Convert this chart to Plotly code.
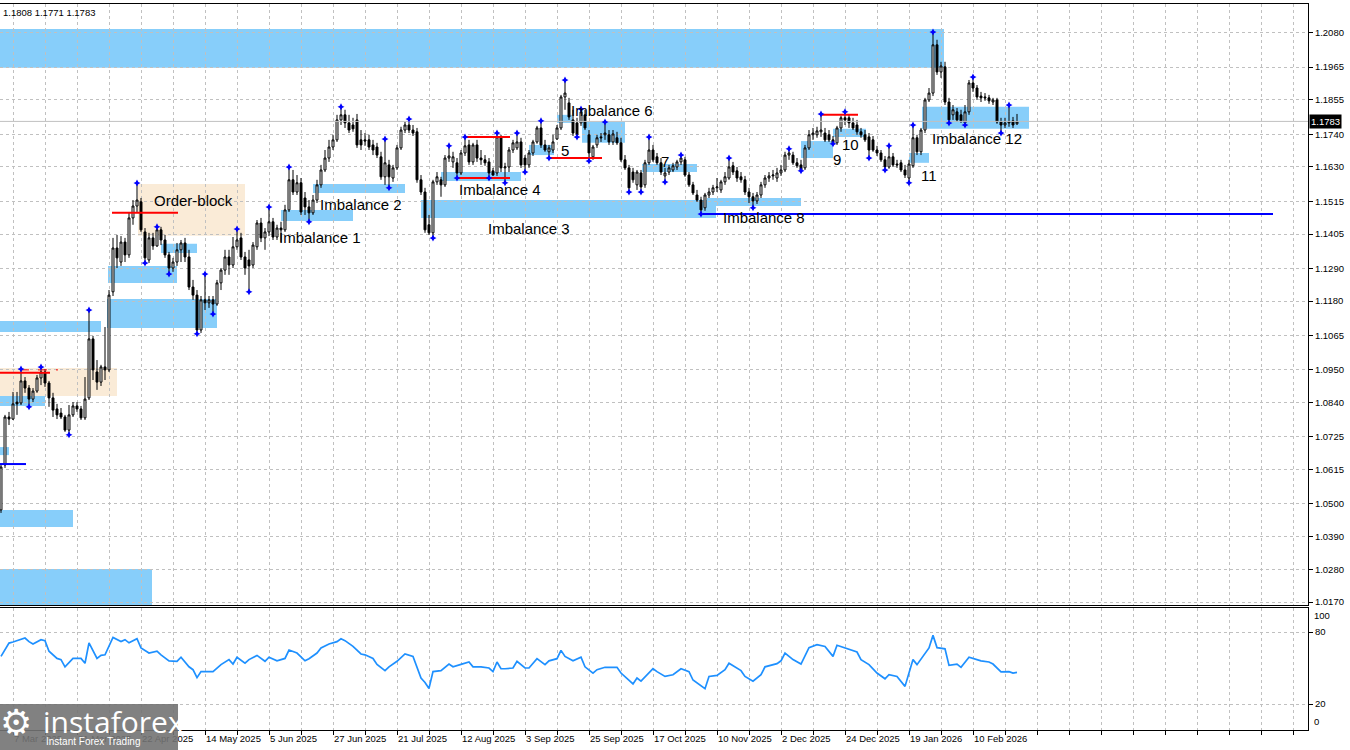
import plotly.graph_objects as go

# ---------------- data ----------------
opens = [
    1.0479, 1.0630, 1.0791, 1.0784, 1.0841, 1.0838, 1.0912, 1.0888, 1.0851, 1.0878,
    1.0922, 1.0942, 1.0905, 1.0855, 1.0818, 1.0804, 1.0791, 1.0747, 1.0798, 1.0828,
    1.0818, 1.0788, 1.0855, 1.1053, 1.0942, 1.0908, 1.0959, 1.0949, 1.1211, 1.1358,
    1.1311, 1.1378, 1.1335, 1.1459, 1.1499, 1.1513, 1.1412, 1.1318, 1.1392, 1.1365,
    1.1419, 1.1385, 1.1335, 1.1291, 1.1311, 1.1352, 1.1375, 1.1328, 1.1227, 1.1200,
    1.1083, 1.1184, 1.1174, 1.1184, 1.1170, 1.1241, 1.1284, 1.1328, 1.1301, 1.1362,
    1.1392, 1.1328, 1.1318, 1.1301, 1.1362, 1.1442, 1.1392, 1.1412, 1.1446, 1.1395,
    1.1425, 1.1419, 1.1486, 1.1587, 1.1546, 1.1577, 1.1526, 1.1496, 1.1476, 1.1519,
    1.1570, 1.1620, 1.1660, 1.1697, 1.1721, 1.1788, 1.1805, 1.1778, 1.1771, 1.1788,
    1.1721, 1.1721, 1.1721, 1.1704, 1.1697, 1.1664, 1.1597, 1.1637, 1.1593, 1.1627,
    1.1694, 1.1754, 1.1771, 1.1754, 1.1748, 1.1587, 1.1546, 1.1436, 1.1409, 1.1580,
    1.1587, 1.1570, 1.1660, 1.1647, 1.1644, 1.1610, 1.1677, 1.1704, 1.1647, 1.1704,
    1.1660, 1.1654, 1.1647, 1.1617, 1.1610, 1.1731, 1.1627, 1.1630, 1.1687, 1.1694,
    1.1714, 1.1660, 1.1637, 1.1677, 1.1714, 1.1761, 1.1704, 1.1681, 1.1687, 1.1724,
    1.1761, 1.1865, 1.1845, 1.1788, 1.1778, 1.1778, 1.1805, 1.1738, 1.1664, 1.1704,
    1.1731, 1.1738, 1.1738, 1.1714, 1.1728, 1.1711, 1.1654, 1.1627, 1.1613, 1.1570,
    1.1610, 1.1570, 1.1644, 1.1687, 1.1664, 1.1644, 1.1600, 1.1613, 1.1620, 1.1630,
    1.1647, 1.1654, 1.1603, 1.1570, 1.1536, 1.1519, 1.1493, 1.1536, 1.1546, 1.1560,
    1.1553, 1.1580, 1.1593, 1.1634, 1.1617, 1.1597, 1.1587, 1.1546, 1.1530, 1.1516,
    1.1536, 1.1570, 1.1593, 1.1600, 1.1593, 1.1610, 1.1620, 1.1670, 1.1670, 1.1644,
    1.1637, 1.1627, 1.1694, 1.1738, 1.1738, 1.1748, 1.1744, 1.1738, 1.1721, 1.1711,
    1.1761, 1.1795, 1.1795, 1.1778, 1.1771, 1.1748, 1.1738, 1.1731, 1.1721, 1.1687,
    1.1677, 1.1654, 1.1630, 1.1664, 1.1640, 1.1644, 1.1620, 1.1593, 1.1634, 1.1728,
    1.1681, 1.1754, 1.1855, 1.1878, 1.2040, 1.1949, 1.1966, 1.1848, 1.1805, 1.1815,
    1.1805, 1.1778, 1.1815, 1.1912, 1.1895, 1.1868, 1.1865, 1.1862, 1.1848, 1.1855,
    1.1781, 1.1771, 1.1778, 1.1785, 1.1775,
]
highs = [
    1.0630, 1.0798, 1.0808, 1.0875, 1.0875, 1.0952, 1.0925, 1.0898, 1.0888, 1.0932,
    1.0959, 1.0952, 1.0912, 1.0872, 1.0835, 1.0821, 1.0798, 1.0831, 1.0841, 1.0841,
    1.0828, 1.0925, 1.1150, 1.1063, 1.0982, 1.0966, 1.1093, 1.1217, 1.1392, 1.1402,
    1.1398, 1.1392, 1.1479, 1.1519, 1.1576, 1.1526, 1.1425, 1.1409, 1.1409, 1.1429,
    1.1429, 1.1402, 1.1345, 1.1325, 1.1375, 1.1385, 1.1392, 1.1352, 1.1251, 1.1217,
    1.1197, 1.1271, 1.1197, 1.1197, 1.1251, 1.1291, 1.1352, 1.1352, 1.1395, 1.1422,
    1.1409, 1.1345, 1.1352, 1.1378, 1.1452, 1.1459, 1.1425, 1.1496, 1.1459, 1.1436,
    1.1446, 1.1503, 1.1630, 1.1620, 1.1603, 1.1593, 1.1546, 1.1519, 1.1536, 1.1587,
    1.1637, 1.1687, 1.1721, 1.1738, 1.1805, 1.1832, 1.1822, 1.1805, 1.1795, 1.1808,
    1.1754, 1.1744, 1.1738, 1.1721, 1.1711, 1.1681, 1.1724, 1.1654, 1.1637, 1.1704,
    1.1765, 1.1781, 1.1791, 1.1771, 1.1761, 1.1603, 1.1560, 1.1469, 1.1587, 1.1613,
    1.1597, 1.1670, 1.1701, 1.1681, 1.1660, 1.1687, 1.1731, 1.1721, 1.1711, 1.1721,
    1.1687, 1.1670, 1.1660, 1.1627, 1.1744, 1.1738, 1.1644, 1.1697, 1.1721, 1.1744,
    1.1728, 1.1670, 1.1687, 1.1721, 1.1768, 1.1785, 1.1721, 1.1704, 1.1738, 1.1771,
    1.1872, 1.1922, 1.1862, 1.1822, 1.1795, 1.1825, 1.1822, 1.1754, 1.1704, 1.1738,
    1.1744, 1.1781, 1.1754, 1.1754, 1.1748, 1.1728, 1.1670, 1.1637, 1.1627, 1.1620,
    1.1620, 1.1654, 1.1731, 1.1704, 1.1677, 1.1660, 1.1627, 1.1637, 1.1644, 1.1654,
    1.1670, 1.1664, 1.1613, 1.1580, 1.1553, 1.1530, 1.1543, 1.1560, 1.1570, 1.1593,
    1.1587, 1.1613, 1.1660, 1.1647, 1.1630, 1.1613, 1.1600, 1.1560, 1.1543, 1.1546,
    1.1580, 1.1603, 1.1613, 1.1620, 1.1627, 1.1637, 1.1681, 1.1691, 1.1681, 1.1660,
    1.1654, 1.1704, 1.1754, 1.1761, 1.1765, 1.1808, 1.1761, 1.1754, 1.1734, 1.1768,
    1.1802, 1.1815, 1.1805, 1.1795, 1.1788, 1.1761, 1.1754, 1.1744, 1.1734, 1.1701,
    1.1687, 1.1667, 1.1701, 1.1677, 1.1654, 1.1654, 1.1637, 1.1654, 1.1771, 1.1738,
    1.1761, 1.1862, 1.1895, 1.2083, 1.2057, 1.1983, 1.1983, 1.1862, 1.1838, 1.1828,
    1.1822, 1.1838, 1.1922, 1.1932, 1.1905, 1.1882, 1.1878, 1.1872, 1.1862, 1.1862,
    1.1795, 1.1795, 1.1838, 1.1798, 1.1808,
]
lows = [
    1.0469, 1.0620, 1.0764, 1.0781, 1.0798, 1.0831, 1.0872, 1.0825, 1.0841, 1.0872,
    1.0898, 1.0892, 1.0825, 1.0791, 1.0784, 1.0784, 1.0741, 1.0731, 1.0791, 1.0808,
    1.0781, 1.0781, 1.0848, 1.0915, 1.0882, 1.0895, 1.0915, 1.0942, 1.1197, 1.1291,
    1.1298, 1.1311, 1.1325, 1.1436, 1.1479, 1.1412, 1.1308, 1.1308, 1.1352, 1.1362,
    1.1368, 1.1325, 1.1271, 1.1278, 1.1298, 1.1311, 1.1311, 1.1217, 1.1184, 1.1070,
    1.1073, 1.1150, 1.1157, 1.1137, 1.1164, 1.1217, 1.1268, 1.1268, 1.1291, 1.1352,
    1.1318, 1.1268, 1.1211, 1.1291, 1.1352, 1.1378, 1.1352, 1.1398, 1.1385, 1.1385,
    1.1378, 1.1412, 1.1479, 1.1536, 1.1536, 1.1469, 1.1469, 1.1446, 1.1469, 1.1509,
    1.1560, 1.1613, 1.1647, 1.1687, 1.1714, 1.1771, 1.1761, 1.1744, 1.1748, 1.1694,
    1.1687, 1.1701, 1.1687, 1.1670, 1.1660, 1.1587, 1.1570, 1.1560, 1.1580, 1.1620,
    1.1687, 1.1744, 1.1744, 1.1734, 1.1577, 1.1536, 1.1409, 1.1402, 1.1392, 1.1570,
    1.1530, 1.1563, 1.1647, 1.1627, 1.1593, 1.1603, 1.1667, 1.1637, 1.1637, 1.1647,
    1.1637, 1.1634, 1.1593, 1.1600, 1.1600, 1.1613, 1.1577, 1.1613, 1.1677, 1.1687,
    1.1627, 1.1613, 1.1627, 1.1667, 1.1708, 1.1694, 1.1681, 1.1660, 1.1677, 1.1721,
    1.1754, 1.1822, 1.1788, 1.1734, 1.1731, 1.1768, 1.1754, 1.1650, 1.1654, 1.1694,
    1.1714, 1.1721, 1.1704, 1.1704, 1.1704, 1.1647, 1.1620, 1.1546, 1.1577, 1.1553,
    1.1546, 1.1560, 1.1637, 1.1647, 1.1637, 1.1603, 1.1580, 1.1603, 1.1613, 1.1620,
    1.1637, 1.1597, 1.1563, 1.1536, 1.1513, 1.1472, 1.1483, 1.1526, 1.1536, 1.1546,
    1.1543, 1.1570, 1.1587, 1.1603, 1.1580, 1.1577, 1.1536, 1.1509, 1.1493, 1.1506,
    1.1526, 1.1560, 1.1580, 1.1587, 1.1580, 1.1600, 1.1613, 1.1654, 1.1637, 1.1627,
    1.1617, 1.1620, 1.1687, 1.1721, 1.1728, 1.1731, 1.1714, 1.1714, 1.1708, 1.1704,
    1.1748, 1.1771, 1.1761, 1.1754, 1.1738, 1.1728, 1.1714, 1.1660, 1.1681, 1.1667,
    1.1647, 1.1620, 1.1624, 1.1630, 1.1627, 1.1613, 1.1593, 1.1577, 1.1627, 1.1670,
    1.1670, 1.1744, 1.1848, 1.1868, 1.1939, 1.1929, 1.1838, 1.1778, 1.1788, 1.1781,
    1.1778, 1.1771, 1.1805, 1.1882, 1.1855, 1.1848, 1.1852, 1.1842, 1.1838, 1.1775,
    1.1744, 1.1761, 1.1765, 1.1761, 1.1771,
]
closes = [
    1.0623, 1.0791, 1.0784, 1.0835, 1.0835, 1.0912, 1.0888, 1.0851, 1.0878, 1.0922,
    1.0942, 1.0905, 1.0855, 1.0814, 1.0798, 1.0791, 1.0747, 1.0798, 1.0828, 1.0818,
    1.0788, 1.0851, 1.1053, 1.0949, 1.0908, 1.0959, 1.0949, 1.1200, 1.1358, 1.1325,
    1.1378, 1.1335, 1.1459, 1.1499, 1.1519, 1.1419, 1.1325, 1.1392, 1.1365, 1.1419,
    1.1385, 1.1335, 1.1291, 1.1311, 1.1352, 1.1375, 1.1328, 1.1227, 1.1200, 1.1083,
    1.1184, 1.1174, 1.1184, 1.1170, 1.1241, 1.1284, 1.1328, 1.1301, 1.1362, 1.1385,
    1.1328, 1.1291, 1.1298, 1.1368, 1.1442, 1.1392, 1.1412, 1.1446, 1.1395, 1.1425,
    1.1419, 1.1486, 1.1587, 1.1546, 1.1577, 1.1479, 1.1496, 1.1476, 1.1519, 1.1570,
    1.1620, 1.1660, 1.1697, 1.1721, 1.1788, 1.1805, 1.1778, 1.1754, 1.1758, 1.1704,
    1.1704, 1.1717, 1.1697, 1.1687, 1.1670, 1.1597, 1.1644, 1.1597, 1.1627, 1.1694,
    1.1754, 1.1771, 1.1754, 1.1744, 1.1587, 1.1546, 1.1419, 1.1409, 1.1580, 1.1597,
    1.1570, 1.1660, 1.1667, 1.1664, 1.1610, 1.1677, 1.1701, 1.1647, 1.1704, 1.1660,
    1.1654, 1.1644, 1.1610, 1.1603, 1.1731, 1.1627, 1.1630, 1.1687, 1.1711, 1.1714,
    1.1637, 1.1637, 1.1677, 1.1714, 1.1761, 1.1704, 1.1687, 1.1694, 1.1714, 1.1761,
    1.1865, 1.1878, 1.1798, 1.1744, 1.1738, 1.1815, 1.1761, 1.1677, 1.1697, 1.1728,
    1.1728, 1.1744, 1.1714, 1.1741, 1.1711, 1.1654, 1.1627, 1.1560, 1.1587, 1.1613,
    1.1563, 1.1644, 1.1687, 1.1654, 1.1644, 1.1613, 1.1610, 1.1627, 1.1634, 1.1647,
    1.1660, 1.1603, 1.1570, 1.1543, 1.1519, 1.1486, 1.1536, 1.1546, 1.1560, 1.1563,
    1.1580, 1.1597, 1.1630, 1.1613, 1.1593, 1.1587, 1.1546, 1.1530, 1.1516, 1.1536,
    1.1570, 1.1593, 1.1600, 1.1603, 1.1610, 1.1620, 1.1670, 1.1677, 1.1644, 1.1634,
    1.1620, 1.1694, 1.1738, 1.1744, 1.1751, 1.1754, 1.1721, 1.1721, 1.1711, 1.1761,
    1.1795, 1.1788, 1.1778, 1.1761, 1.1748, 1.1738, 1.1721, 1.1687, 1.1687, 1.1677,
    1.1654, 1.1630, 1.1664, 1.1637, 1.1637, 1.1620, 1.1603, 1.1640, 1.1728, 1.1681,
    1.1754, 1.1855, 1.1878, 1.2040, 1.1949, 1.1969, 1.1848, 1.1788, 1.1822, 1.1788,
    1.1785, 1.1815, 1.1912, 1.1895, 1.1865, 1.1862, 1.1862, 1.1852, 1.1855, 1.1781,
    1.1771, 1.1778, 1.1781, 1.1771, 1.1783,
]
bars = list(range(len(closes)))

date_labels = ["7 Mar 2025", "31 Mar 2025", "22 Apr 2025", "14 May 2025", "5 Jun 2025",
               "27 Jun 2025", "21 Jul 2025", "12 Aug 2025", "3 Sep 2025", "25 Sep 2025",
               "17 Oct 2025", "10 Nov 2025", "2 Dec 2025", "24 Dec 2025", "19 Jan 2026",
               "10 Feb 2026"]
date_label_bars = [3, 19, 35, 51, 67, 83, 99, 115, 131, 147, 163, 179, 195, 211, 227, 243]

price_ticks = [1.2080, 1.1965, 1.1855, 1.1740, 1.1630, 1.1515, 1.1405, 1.1290, 1.1180,
               1.1065, 1.0950, 1.0840, 1.0725, 1.0615, 1.0500, 1.0390, 1.0280, 1.0170]

up_fractals = [5, 10, 22, 34, 39, 51, 59, 67, 72, 85, 96, 102, 112, 116, 124, 129, 135,
               141, 145, 151, 162, 170, 182, 197, 205, 211, 222, 228, 233, 243, 252]
down_fractals = [7, 17, 36, 42, 49, 53, 62, 77, 97, 108, 114, 122, 126, 131, 137, 144, 147,
                 157, 160, 166, 175, 188, 200, 208, 217, 221, 227, 237, 241, 250]

rsi_bar = [0, 2, 3, 6, 7, 8, 10, 11, 12, 14, 15, 16, 18, 20, 21, 22, 24, 25, 26, 28,
           30, 31, 32, 34, 35, 37, 39, 40, 42, 44, 45, 47, 48, 49, 50, 53, 55, 57, 58, 59,
           61, 62, 64, 66, 67, 69, 71, 72, 74, 76, 77, 79, 80, 82, 84, 85, 86, 88, 90, 91,
           93, 94, 96, 97, 99, 101, 103, 104, 105, 106, 107, 108, 110, 112, 113, 115, 117, 118, 120, 122,
           123, 124, 125, 126, 128, 129, 131, 132, 134, 136, 137, 139, 140, 141, 143, 145, 146, 148, 149, 151,
           154, 155, 157, 158, 159, 160, 163, 164, 166, 168, 170, 172, 173, 176, 177, 179, 181, 182, 185, 186,
           188, 190, 191, 194, 195, 196, 198, 200, 202, 204, 206, 208, 209, 211, 214, 215, 217, 219, 221, 222,
           224, 226, 227, 228, 229, 232, 233, 234, 236, 237, 239, 240, 242, 245, 247, 248, 250, 252, 253, 254]
rsi_val = [59.7, 70.8, 71.7, 75.0, 72.0, 70.0, 73.6, 72.8, 64.0, 58.0, 57.0, 51.0, 58.0, 58.0, 54.0, 71.0, 58.0, 60.5, 61.0, 75.5,
           72.0, 73.6, 71.0, 74.4, 66.7, 62.5, 64.0, 61.0, 56.0, 55.6, 59.0, 51.0, 48.6, 42.0, 47.0, 47.0, 52.8, 57.0, 53.3, 59.0,
           54.0, 57.0, 60.5, 55.6, 59.0, 56.0, 58.0, 65.0, 62.5, 56.0, 57.8, 62.5, 66.7, 70.0, 72.0, 74.4, 72.8, 68.0, 61.7, 61.0,
           58.0, 53.0, 47.8, 51.0, 55.6, 61.7, 59.7, 50.0, 41.7, 38.0, 33.0, 47.0, 47.8, 53.3, 51.0, 53.0, 55.0, 51.0, 51.0, 50.0,
           47.0, 55.0, 49.4, 49.4, 50.0, 55.6, 50.0, 50.0, 57.8, 52.8, 56.0, 57.8, 64.7, 59.7, 56.0, 59.0, 51.0, 45.8, 48.6, 50.6,
           50.6, 45.8, 40.0, 36.7, 41.7, 39.0, 49.4, 47.0, 43.0, 44.4, 49.4, 47.0, 40.0, 32.8, 43.0, 43.9, 48.6, 54.0, 47.8, 43.0,
           39.0, 44.4, 51.0, 53.6, 56.0, 62.5, 57.0, 53.3, 67.0, 69.4, 68.0, 59.7, 69.0, 66.7, 63.3, 57.0, 52.8, 45.8, 41.0, 44.4,
           43.0, 34.7, 45.8, 57.0, 52.8, 66.7, 77.2, 67.0, 66.0, 52.2, 53.3, 50.6, 59.0, 56.0, 55.0, 53.3, 46.7, 47.0, 45.8, 46.4]

# zones: start bar, end bar, low price, high price, kind
zone_start = [-1, -1, -1, -1, -1, -1, 26.5, 26.75, 40, 70, 78, 105, 110, 132, 139, 145.25,
              160.25, 176.5, 200, 208, 227, 230.25, -1, 34.25]
zone_end = [235.75, 37.75, 18, 2, 11, 25, 54, 44, 49, 88, 101, 178.75, 130, 138.25, 142.75, 156,
            174, 200, 208, 216.25, 232, 257, 29, 61]
zone_low = [1.1963, 1.0150, 1.0422, 1.0663, 1.0828, 1.1076, 1.1090, 1.1241, 1.1341, 1.1449, 1.1543,
            1.1459, 1.1583, 1.1670, 1.1778, 1.1711, 1.1613, 1.1499, 1.1660, 1.1731, 1.1644, 1.1758,
            1.0861, 1.1399]
zone_high = [1.2093, 1.0281, 1.0479, 1.0690, 1.0875, 1.1113, 1.1187, 1.1298, 1.1372, 1.1486, 1.1573,
             1.1519, 1.1613, 1.1704, 1.1805, 1.1781, 1.1640, 1.1526, 1.1717, 1.1758, 1.1677, 1.1832,
             1.0955, 1.1573]
zone_kind = ["imb"] * 22 + ["ob", "ob"]

# horizontal levels: start bar, end bar, price, colour, width, dash
level_start = [-1, 4.75, 27.75, 116, 113.75, 137, 205, -1, 175.5]
level_end = [12.25, 14.25, 44.25, 127.25, 127.25, 150.25, 214.25, 6.25, 318]
level_price = [1.0939, 1.0949, 1.1476, 1.1731, 1.1593, 1.1660, 1.1805, 1.0633, 1.1472]
level_color = ["#ff0000"] * 7 + ["#0000ff", "#0000ff"]
level_width = [2, 1, 2, 2, 2, 2, 2, 2, 2]
level_dash = ["solid", "dash", "solid", "solid", "solid", "solid", "solid", "solid", "solid"]

# text notes
note_text = ["Order-block", "Imbalance 1", "Imbalance 2", "Imbalance 3", "Imbalance 4", "5",
             "Imbalance 6", "7", "Imbalance 8", "9", "10", "11", "Imbalance 12"]
note_bar = [48, 79.75, 90, 132, 124.75, 141, 152.75, 166, 190.75, 209, 212.25, 232, 244]
note_price = [1.1519, 1.1395, 1.1503, 1.1425, 1.1553, 1.1684, 1.1818, 1.1650, 1.1459, 1.1654,
              1.1707, 1.1603, 1.1724]

# ---------------- figure ----------------
FONT = "Liberation Sans, Arial, sans-serif"
GRID = "#c0c0c0"
fig = go.Figure()

kind_color = {"imb": "#87CEFA", "ob": "#FAEBD7"}
shapes = []
for x0, x1, lo, hi, k in zip(zone_start, zone_end, zone_low, zone_high, zone_kind):
    shapes.append(dict(type="rect", xref="x", yref="y", x0=x0, x1=x1, y0=lo, y1=hi,
                       fillcolor=kind_color[k], line=dict(width=0), layer="below"))

# current price line
fig.add_trace(go.Scatter(x=[-1, 330], y=[closes[-1], closes[-1]], mode="lines",
                         line=dict(color="#c0c0c0", width=1), hoverinfo="skip",
                         xaxis="x", yaxis="y"))

fig.add_trace(go.Candlestick(
    x=bars, open=opens, high=highs, low=lows, close=closes,
    increasing=dict(line=dict(color="black", width=1), fillcolor="white"),
    decreasing=dict(line=dict(color="black", width=1), fillcolor="black"),
    whiskerwidth=0, hoverinfo="skip", xaxis="x", yaxis="y"))

for x0, x1, p, c, w, d in zip(level_start, level_end, level_price, level_color, level_width, level_dash):
    fig.add_trace(go.Scatter(x=[x0, x1], y=[p, p], mode="lines",
                             line=dict(color=c, width=w, dash=d), hoverinfo="skip",
                             xaxis="x", yaxis="y"))

fig.add_trace(go.Scatter(x=up_fractals, y=[highs[i] for i in up_fractals], mode="markers",
                         marker=dict(symbol="star-diamond", size=5, color="#0000ff"),
                         hoverinfo="skip", xaxis="x", yaxis="y"))
fig.add_trace(go.Scatter(x=down_fractals, y=[lows[i] for i in down_fractals], mode="markers",
                         marker=dict(symbol="star-diamond", size=5, color="#0000ff"),
                         hoverinfo="skip", xaxis="x", yaxis="y"))

fig.add_trace(go.Scatter(x=rsi_bar, y=rsi_val, mode="lines",
                         line=dict(color="#1e90ff", width=1.7), hoverinfo="skip",
                         xaxis="x2", yaxis="y2"))

annotations = []
for t, b, p in zip(note_text, note_bar, note_price):
    annotations.append(dict(x=b, y=p, xref="x", yref="y", text=t, showarrow=False,
                            font=dict(family=FONT, size=15, color="#000000")))

# header OHLC text
annotations.append(dict(x=0, y=1, xref="paper", yref="paper", xanchor="left", yanchor="top",
                        xshift=1, yshift=-1, showarrow=False,
                        text=f"{highs[-1]:.4f} {lows[-1]:.4f} {closes[-1]:.4f}",
                        font=dict(family=FONT, size=9.5, color="black")))
# current price tag
annotations.append(dict(x=1, y=closes[-1], xref="paper", yref="y", xanchor="left", xshift=1,
                        showarrow=False, text=f"{closes[-1]:.4f}", bgcolor="black",
                        borderpad=1, font=dict(family=FONT, size=9.5, color="white")))
# indicator edge labels
annotations.append(dict(x=1, y=94, xref="paper", yref="y2", xanchor="left", xshift=4,
                        showarrow=False, text="100", font=dict(family=FONT, size=9.5, color="black")))
annotations.append(dict(x=1, y=5.5, xref="paper", yref="y2", xanchor="left", xshift=4,
                        showarrow=False, text="0", font=dict(family=FONT, size=9.5, color="black")))

# watermark
shapes.append(dict(type="rect", xref="paper", yref="paper", x0=0, x1=0.1361, y0=-0.0276, y1=0.0358,
                   fillcolor="rgba(115,115,115,0.9)", line=dict(width=0), layer="above"))
annotations.append(dict(x=0.0125, y=0.010, xref="paper", yref="paper", xanchor="center", yanchor="middle",
                        showarrow=False, text="⚙", font=dict(family="DejaVu Sans", size=36, color="white")))
annotations.append(dict(x=0.031, y=0.012, xref="paper", yref="paper", xanchor="left", yanchor="middle",
                        showarrow=False, text="instaforex", font=dict(family="Open Sans", size=30, color="white")))
annotations.append(dict(x=0.034, y=-0.0155, xref="paper", yref="paper", xanchor="left", yanchor="middle",
                        showarrow=False, text="Instant Forex Trading",
                        font=dict(family=FONT, size=10, color="white")))

grid_vals = list(range(3, 327, 8))
grid_text = []
for v in grid_vals:
    if v in date_label_bars:
        grid_text.append(date_labels[date_label_bars.index(v)])
    else:
        grid_text.append("")

fig.update_layout(
    width=1350, height=750,
    margin=dict(l=0, r=42, t=4, b=20),
    paper_bgcolor="white", plot_bgcolor="white",
    showlegend=False,
    shapes=shapes, annotations=annotations,
    font=dict(family=FONT, size=9.5, color="black"),
    xaxis=dict(domain=[0, 1], anchor="y", range=[-0.25, 326.75], tickvals=grid_vals,
               showticklabels=False, ticks="", showgrid=True, gridcolor=GRID, griddash="3px,3px",
               gridwidth=1, showline=True, mirror=True, linecolor="black", linewidth=1,
               zeroline=False, rangeslider=dict(visible=False), fixedrange=True),
    xaxis2=dict(domain=[0, 1], anchor="y2", matches="x", range=[-0.25, 326.75], tickvals=grid_vals,
                ticktext=grid_text, ticks="outside", ticklen=4, tickcolor="black",
                ticklabelposition="outside right", showgrid=True, gridcolor=GRID, griddash="3px,3px",
                showline=True, mirror=True, linecolor="black", linewidth=1, zeroline=False,
                tickfont=dict(family=FONT, size=9.5, color="black"), fixedrange=True),
    yaxis=dict(domain=[0.1722, 1], anchor="x", side="right", range=[1.0160, 1.2177],
               tickvals=price_ticks, ticktext=[f"{v:.4f}" for v in price_ticks],
               ticks="outside", ticklen=4, tickcolor="black", showgrid=True, gridcolor=GRID,
               griddash="3px,3px", showline=True, linecolor="black", linewidth=1, zeroline=False,
               tickfont=dict(family=FONT, size=9.5, color="black"), fixedrange=True),
    yaxis2=dict(domain=[0, 0.168], anchor="x2", side="right", range=[-1.67, 100],
                tickvals=[80, 20], ticktext=["80", "20"], ticks="outside", ticklen=4,
                tickcolor="black", showgrid=True, gridcolor=GRID, griddash="3px,3px",
                showline=True, linecolor="black", linewidth=1, zeroline=False,
                tickfont=dict(family=FONT, size=9.5, color="black"), fixedrange=True),
)

fig.write_html("out.html", config={"displayModeBar": False},
               post_script="document.body.style.margin='0px';")
